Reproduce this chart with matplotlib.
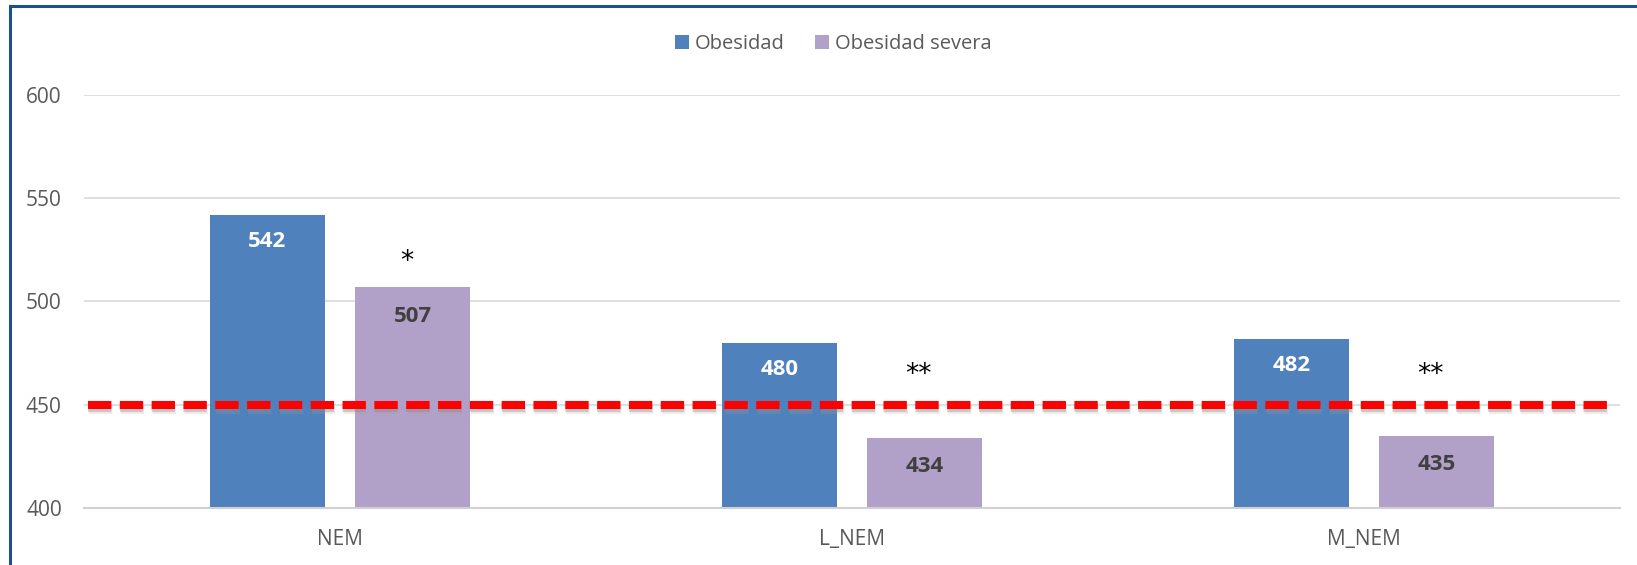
import matplotlib
matplotlib.use("Agg")
import matplotlib.pyplot as plt
import matplotlib.patheffects as pe
from matplotlib.patches import Rectangle
import numpy as np

plt.rcParams['font.family'] = ['Open Sans', 'DejaVu Sans']

categories = ["NEM", "L_NEM", "M_NEM"]
obesidad = [542, 480, 482]
obesidad_severa = [507, 434, 435]
significance = ["*", "**", "**"]
reference_value = 450
y_ticks = [400, 450, 500, 550, 600]

blue = "#4F81BD"
purple = "#B1A0C7"
grid_gray = "#D9D9D9"
text_gray = "#595959"

fig = plt.figure(figsize=(16.37, 5.65), dpi=100)
ax = fig.add_axes([0.0513, 0.1009, 0.9383, 0.7310])

x = np.arange(len(categories))
width = 0.2246
offset = 0.1416

b1 = ax.bar(x - offset, obesidad, width, color=blue, label="Obesidad", zorder=2)
b2 = ax.bar(x + offset, obesidad_severa, width, color=purple, label="Obesidad severa", zorder=2)

ax.set_xlim(-0.5, len(categories) - 0.5)
ax.set_ylim(400, 600)
ax.set_yticks(y_ticks)
ax.set_xticks(x)
ax.set_xticklabels(categories)
ax.tick_params(axis='y', length=0, labelsize=15, labelcolor=text_gray, pad=16)
ax.tick_params(axis='x', length=0, labelsize=15, labelcolor=text_gray, pad=15)
ax.yaxis.grid(True, color=grid_gray, linewidth=1.2, zorder=0)
ax.set_axisbelow(True)
for side in ["top", "right", "left"]:
    ax.spines[side].set_visible(False)
ax.spines["bottom"].set_color("#D0D0D0")
ax.spines["bottom"].set_linewidth(1.5)

# value labels inside bars
for rect, v in zip(b1, obesidad):
    ax.annotate(f"{v}", (rect.get_x() + rect.get_width() / 2, v),
                xytext=(0, -19), textcoords="offset points",
                ha="center", va="center", color="white",
                fontsize=16, fontweight="bold", zorder=5)
for rect, v in zip(b2, obesidad_severa):
    ax.annotate(f"{v}", (rect.get_x() + rect.get_width() / 2, v),
                xytext=(0, -21), textcoords="offset points",
                ha="center", va="center", color="#404040",
                fontsize=16, fontweight="bold", zorder=5)

# significance marks above the severe-obesity bars
sig_levels = [519, 464.5, 464.5]
for xi, mark, lvl in zip(x, significance, sig_levels):
    ax.text(xi + 0.13, lvl, mark, ha="center", va="center",
            fontsize=19, color="black", family="DejaVu Sans", zorder=5)

# reference line with a soft shadow
shadow = [pe.SimpleLineShadow(offset=(0, -2.5), shadow_color="#808080", alpha=0.35),
          pe.SimpleLineShadow(offset=(0.5, -4), shadow_color="#A0A0A0", alpha=0.2),
          pe.Normal()]
ax.axhline(reference_value, xmin=0.0026, xmax=0.992, color="#FF0000",
           linewidth=5.8, dashes=(2.9, 1.05), zorder=4, path_effects=shadow)

ax.legend(loc="center", bbox_to_anchor=(833 / 1637, 1 - 44 / 565),
          bbox_transform=fig.transFigure, ncol=2, frameon=False,
          fontsize=14.5, labelcolor=text_gray, handlelength=0.7,
          handleheight=0.7, handletextpad=0.3, columnspacing=1.5)

# chart frame
fig.patches.append(Rectangle((10 / 1637, -0.05), 1.1, 1 - 6 / 565 + 0.05,
                             transform=fig.transFigure, fill=False,
                             edgecolor="#1F4E8C", linewidth=2.2, zorder=10))

fig.savefig("out.png", dpi=100)
